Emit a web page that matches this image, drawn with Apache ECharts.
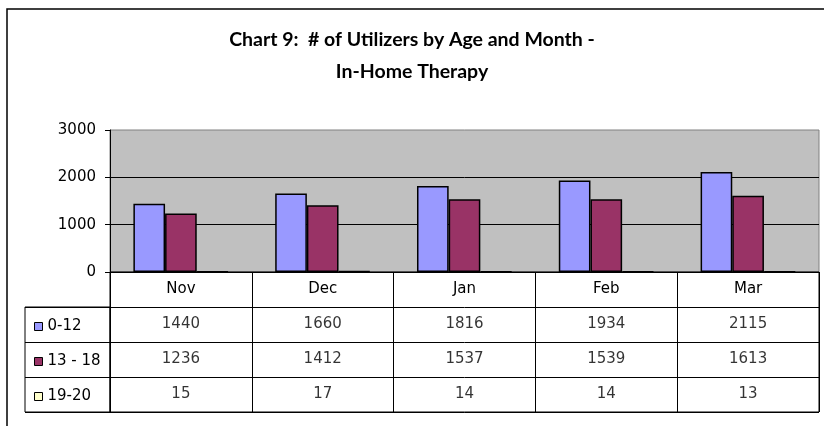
<!DOCTYPE html>
<html>
<head>
<meta charset="utf-8">
<script src="https://cdn.jsdelivr.net/npm/echarts@6/dist/echarts.min.js"></script>
<style>
  html, body { margin: 0; padding: 0; background: #fff; }
  #chart { width: 824px; height: 426px; }
</style>
</head>
<body>
<div id="chart"></div>
<script>
// data
const months = ['Nov', 'Dec', 'Jan', 'Feb', 'Mar'];
const groups = ['0-12', '13 - 18', '19-20'];
const age0to12 = [1440, 1660, 1816, 1934, 2115];
const age13to18 = [1236, 1412, 1537, 1539, 1613];
const age19to20 = [15, 17, 14, 14, 13];
const colors = ['#9999FF', '#993366', '#FFFFCC'];

const values = [age0to12, age13to18, age19to20];
const font = 'DejaVu Sans';

// data table cells (month index, row index, value)
const cells = [];
values.forEach((arr, i) => {
  arr.forEach((v, j) => cells.push([j, i + 1, v]));
});

const chart = echarts.init(document.getElementById('chart'));
const option = {
  animation: false,
  backgroundColor: '#fff',
  title: {
    text: 'Chart 9:  # of Utilizers by Age and Month -\nIn-Home Therapy',
    left: 'center',
    top: 19,
    textStyle: {
      fontFamily: 'Lato',
      fontWeight: 'bold',
      fontSize: 19.5,
      lineHeight: 32,
      color: '#000'
    }
  },
  legend: {
    data: groups,
    orient: 'vertical',
    left: 29,
    top: 314,
    itemWidth: 8,
    itemHeight: 8,
    itemGap: 20,
    icon: 'rect',
    itemStyle: { borderColor: '#000', borderWidth: 1 },
    textStyle: { fontFamily: font, fontSize: 15, color: '#000' }
  },
  graphic: [
    {
      type: 'rect',
      shape: { x: 7, y: 9, width: 840, height: 440 },
      style: { fill: 'none', stroke: '#000', lineWidth: 1.5 },
      silent: true
    }
  ],
  grid: [
    { left: 110, right: 5, top: 130, height: 142, show: true,
      backgroundColor: '#C0C0C0', borderColor: '#808080', borderWidth: 1 },
    { left: 110, right: 5, top: 272, height: 140, show: true,
      borderColor: '#000', borderWidth: 1 },
    { left: 25, width: 85, top: 307, height: 105, show: true,
      borderColor: '#000', borderWidth: 1 }
  ],
  xAxis: [
    {
      gridIndex: 0,
      type: 'category',
      data: months,
      axisLine: { lineStyle: { color: '#000', width: 1 } },
      axisTick: { show: false },
      axisLabel: { margin: 10, fontFamily: font, fontSize: 15, color: '#000' }
    },
    {
      gridIndex: 1,
      type: 'category',
      data: months,
      axisLine: { show: false },
      axisTick: { show: false },
      axisLabel: { show: false },
      splitLine: { show: true, lineStyle: { color: '#000', width: 1 } }
    },
    { gridIndex: 2, type: 'value', show: false }
  ],
  yAxis: [
    {
      gridIndex: 0,
      type: 'value',
      min: 0,
      max: 3000,
      interval: 1000,
      axisLine: { show: true, lineStyle: { color: '#000', width: 1 } },
      axisTick: { show: true, length: 5, lineStyle: { color: '#000' } },
      axisLabel: { margin: 14, fontFamily: font, fontSize: 15, color: '#000',
        formatter: v => String(v) },
      splitLine: { show: true, showMaxLine: false, lineStyle: { color: '#000', width: 1 } }
    },
    {
      gridIndex: 1,
      type: 'category',
      inverse: true,
      data: [''].concat(groups),
      axisLine: { show: false },
      axisTick: { show: false },
      axisLabel: { show: false },
      splitLine: { show: true, lineStyle: { color: '#000', width: 1 } }
    },
    {
      gridIndex: 2,
      type: 'category',
      inverse: true,
      data: groups,
      axisLine: { show: false },
      axisTick: { show: false },
      axisLabel: { show: false },
      splitLine: { show: true, lineStyle: { color: '#000', width: 1 } }
    }
  ],
  series: groups.map((g, i) => ({
    name: g,
    type: 'bar',
    xAxisIndex: 0,
    yAxisIndex: 0,
    data: values[i],
    barGap: '0%',
    barCategoryGap: '33%',
    itemStyle: { color: colors[i], borderColor: '#000', borderWidth: 1.5 }
  })).concat([
    {
      name: 'table',
      type: 'scatter',
      xAxisIndex: 1,
      yAxisIndex: 1,
      data: cells,
      symbolSize: 1,
      itemStyle: { color: 'rgba(0,0,0,0)' },
      label: {
        show: true,
        position: 'inside',
        formatter: p => String(p.value[2]),
        fontFamily: font,
        fontSize: 15,
        color: '#000'
      }
    }
  ])
};
chart.setOption(option);
</script>
</body>
</html>
